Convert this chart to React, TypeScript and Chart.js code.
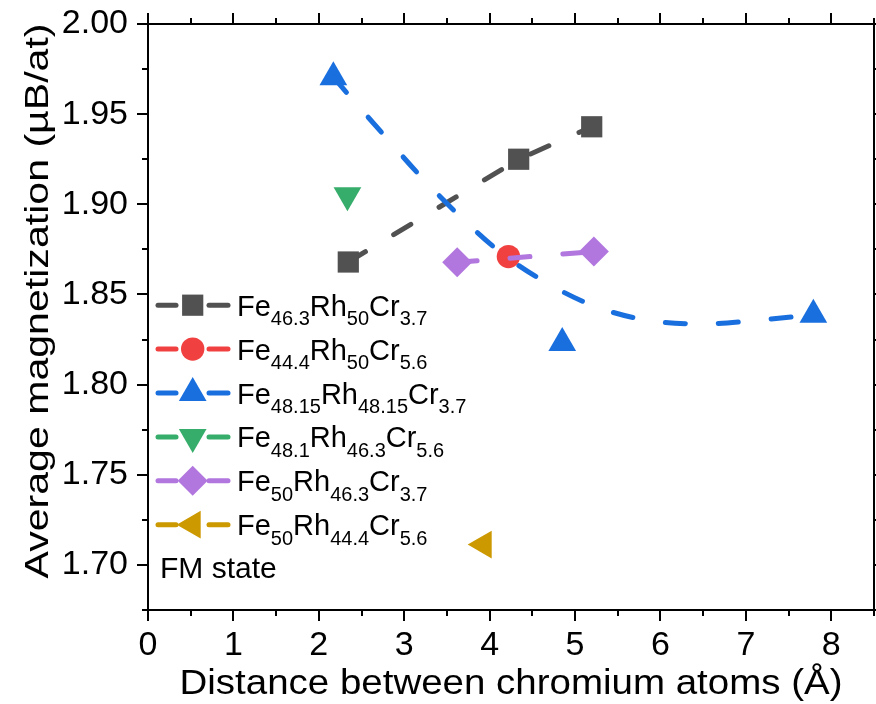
import React, { useEffect, useRef } from 'react';
import { Chart, registerables } from 'chart.js';

Chart.register(...registerables);

const FONT = '"Liberation Sans", Arial, Helvetica, sans-serif';

// Axis ranges and ticks
const xMin = 0;
const xMax = 8.5;
const yMin = 1.675;
const yMax = 2.0;
const xMajorTicks = [0, 1, 2, 3, 4, 5, 6, 7, 8];
const xMinorTicks = [0.5, 1.5, 2.5, 3.5, 4.5, 5.5, 6.5, 7.5, 8.5];
const yMajorTicks = [1.7, 1.75, 1.8, 1.85, 1.9, 1.95, 2.0];
const yMinorTicks = [1.675, 1.725, 1.775, 1.825, 1.875, 1.925, 1.975];

const xTitle = 'Distance between chromium atoms (Å)';
const yTitle = 'Average magnetization (µB/at)';
const noteText = 'FM state';

// Series labels (subscripts marked with _{ })
const seriesLabels = [
  'Fe_{46.3}Rh_{50}Cr_{3.7}',
  'Fe_{44.4}Rh_{50}Cr_{5.6}',
  'Fe_{48.15}Rh_{48.15}Cr_{3.7}',
  'Fe_{48.1}Rh_{46.3}Cr_{5.6}',
  'Fe_{50}Rh_{46.3}Cr_{3.7}',
  'Fe_{50}Rh_{44.4}Cr_{5.6}',
];
const seriesColors = ['#515151', '#F14040', '#1A6FDF', '#37AD6B', '#B177DE', '#CC9900'];

// Data values
const fe463X = [2.345, 4.34, 5.195];
const fe463Y = [1.868, 1.925, 1.943];

const fe444X = [4.22];
const fe444Y = [1.871];

const fe4815X = [2.17, 4.85, 7.79];
const fe4815Y = [1.9705, 1.8231, 1.8388];

// dashed fit curve of the Fe48.15Rh48.15Cr3.7 series
const fe4815FitX = [2.17, 2.345, 2.767, 3.185, 3.633, 4.114, 4.649, 5.234, 5.858, 6.495, 7.119, 7.79];
const fe4815FitY = [1.9705, 1.9609, 1.9381, 1.9159, 1.8943, 1.8739, 1.8569, 1.8434, 1.8356, 1.8336, 1.8356, 1.8388];

const fe481X = [2.335];
const fe481Y = [1.905];

const fe50aX = [3.62, 5.22];
const fe50aY = [1.8678, 1.8738];

const fe50bX = [3.93];
const fe50bY = [1.7113];

const toPts = (xs: number[], ys: number[]) => xs.map((x, i) => ({ x, y: ys[i] }));

type MarkerDef = { style: string; r: number; rot: number };
const markers: MarkerDef[] = [
  { style: 'rect', r: 15, rot: 0 },
  { style: 'circle', r: 11.7, rot: 0 },
  { style: 'triangle', r: 16, rot: 0 },
  { style: 'triangle', r: 16, rot: 180 },
  { style: 'rectRot', r: 15, rot: 0 },
  { style: 'triangle', r: 16, rot: -90 },
];

function drawMarker(ctx: CanvasRenderingContext2D, m: MarkerDef, x: number, y: number) {
  const r = m.r;
  ctx.beginPath();
  if (m.style === 'rect') {
    const s = Math.SQRT1_2 * r;
    ctx.rect(x - s, y - s, 2 * s, 2 * s);
  } else if (m.style === 'circle') {
    ctx.arc(x, y, r, 0, Math.PI * 2);
  } else if (m.style === 'rectRot') {
    ctx.moveTo(x - r, y);
    ctx.lineTo(x, y - r);
    ctx.lineTo(x + r, y);
    ctx.lineTo(x, y + r);
    ctx.closePath();
  } else {
    let rad = (m.rot * Math.PI) / 180;
    ctx.moveTo(x + Math.sin(rad) * r, y - Math.cos(rad) * r);
    rad += (2 * Math.PI) / 3;
    ctx.lineTo(x + Math.sin(rad) * r, y - Math.cos(rad) * r);
    rad += (2 * Math.PI) / 3;
    ctx.lineTo(x + Math.sin(rad) * r, y - Math.cos(rad) * r);
    ctx.closePath();
  }
  ctx.fill();
}

function parseLabel(s: string) {
  const parts: { t: string; sub: boolean }[] = [];
  const re = /_\{([^}]*)\}|([^_]+)/g;
  let m: RegExpExecArray | null;
  while ((m = re.exec(s))) {
    if (m[1] !== undefined) parts.push({ t: m[1], sub: true });
    else parts.push({ t: m[2], sub: false });
  }
  return parts;
}

const decorPlugin = {
  id: 'decor',
  afterDatasetsDraw(chart: any) {
    const { ctx, chartArea: a, scales } = chart;
    const xs = scales.x;
    const ys = scales.y;
    ctx.save();
    // frame
    ctx.strokeStyle = '#000';
    ctx.lineWidth = 2;
    ctx.setLineDash([]);
    ctx.strokeRect(a.left, a.top, a.right - a.left, a.bottom - a.top);
    const seg = (x1: number, y1: number, x2: number, y2: number) => {
      ctx.beginPath();
      ctx.moveTo(x1, y1);
      ctx.lineTo(x2, y2);
      ctx.stroke();
    };
    const MAJ = 11;
    const MIN = 6;
    for (const v of xMajorTicks) {
      const p = Math.round(xs.getPixelForValue(v));
      seg(p, a.bottom, p, a.bottom + MAJ);
      seg(p, a.top, p, a.top - MAJ);
    }
    for (const v of xMinorTicks) {
      const p = Math.round(xs.getPixelForValue(v));
      seg(p, a.bottom, p, a.bottom + MIN);
      seg(p, a.top, p, a.top - MIN);
    }
    for (const v of yMajorTicks) {
      const p = Math.round(ys.getPixelForValue(v));
      seg(a.left - MAJ, p, a.left, p);
      seg(a.right, p, a.right + MAJ, p);
    }
    for (const v of yMinorTicks) {
      const p = Math.round(ys.getPixelForValue(v));
      seg(a.left - MIN, p, a.left, p);
      seg(a.right, p, a.right + MIN, p);
    }

    // axis titles
    ctx.fillStyle = '#000';
    ctx.textBaseline = 'alphabetic';
    ctx.textAlign = 'center';
    ctx.font = `35px ${FONT}`;
    let w = ctx.measureText(xTitle).width;
    ctx.save();
    ctx.translate((a.left + a.right) / 2, 694);
    ctx.scale(663 / w, 1);
    ctx.fillText(xTitle, 0, 0);
    ctx.restore();

    ctx.font = `34px ${FONT}`;
    w = ctx.measureText(yTitle).width;
    ctx.save();
    ctx.translate(48, 301);
    ctx.rotate(-Math.PI / 2);
    ctx.scale(555 / w, 1);
    ctx.fillText(yTitle, 0, 0);
    ctx.restore();

    // legend
    ctx.textAlign = 'left';
    const base0 = 315.7;
    const step = 43.9;
    seriesLabels.forEach((lab, i) => {
      const bl = base0 + i * step;
      const cy = bl - 10.5;
      const col = seriesColors[i];
      ctx.strokeStyle = col;
      ctx.fillStyle = col;
      ctx.lineWidth = 5;
      ctx.lineCap = 'round';
      seg(158, cy, 176, cy);
      seg(209, cy, 228, cy);
      drawMarker(ctx, markers[i], 192.7, cy);
      ctx.fillStyle = '#000';
      let x = 237;
      for (const p of parseLabel(lab)) {
        ctx.font = p.sub ? `20px ${FONT}` : `29px ${FONT}`;
        ctx.fillText(p.t, x, p.sub ? bl + 9.3 : bl);
        x += ctx.measureText(p.t).width;
      }
    });
    ctx.font = `30px ${FONT}`;
    ctx.fillStyle = '#000';
    ctx.fillText(noteText, 160, 578.3);
    ctx.restore();
  },
};

export default function App() {
  const ref = useRef<HTMLCanvasElement>(null);
  useEffect(() => {
    if (!ref.current) return;
    const lineCommon = {
      borderWidth: 5,
      borderDash: [20, 33],
      borderCapStyle: 'round' as const,
      pointBorderWidth: 0,
      clip: false as any,
    };
    const chart = new Chart(ref.current, {
      type: 'scatter',
      data: {
        datasets: [
          {
            label: seriesLabels[0],
            data: toPts(fe463X, fe463Y),
            showLine: true,
            borderColor: seriesColors[0],
            backgroundColor: seriesColors[0],
            pointBackgroundColor: seriesColors[0],
            pointStyle: 'rect',
            pointRadius: markers[0].r,
            order: 4,
            ...lineCommon,
          },
          {
            label: seriesLabels[1],
            data: toPts(fe444X, fe444Y),
            showLine: false,
            borderColor: seriesColors[1],
            backgroundColor: seriesColors[1],
            pointBackgroundColor: seriesColors[1],
            pointStyle: 'circle',
            pointRadius: markers[1].r,
            order: 1,
            ...lineCommon,
          },
          {
            label: seriesLabels[2] + ' fit',
            data: toPts(fe4815FitX, fe4815FitY),
            showLine: true,
            borderColor: seriesColors[2],
            backgroundColor: seriesColors[2],
            pointRadius: 0,
            cubicInterpolationMode: 'monotone',
            order: 2,
            ...lineCommon,
          },
          {
            label: seriesLabels[2],
            data: toPts(fe4815X, fe4815Y),
            showLine: false,
            borderColor: seriesColors[2],
            backgroundColor: seriesColors[2],
            pointBackgroundColor: seriesColors[2],
            pointStyle: 'triangle',
            pointRadius: markers[2].r,
            order: 2,
            ...lineCommon,
          },
          {
            label: seriesLabels[3],
            data: toPts(fe481X, fe481Y),
            showLine: false,
            borderColor: seriesColors[3],
            backgroundColor: seriesColors[3],
            pointBackgroundColor: seriesColors[3],
            pointStyle: 'triangle',
            pointRotation: 180,
            pointRadius: markers[3].r,
            order: 5,
            ...lineCommon,
          },
          {
            label: seriesLabels[4],
            data: toPts(fe50aX, fe50aY),
            showLine: true,
            borderColor: seriesColors[4],
            backgroundColor: seriesColors[4],
            pointBackgroundColor: seriesColors[4],
            pointStyle: 'rectRot',
            pointRadius: markers[4].r,
            order: 0,
            ...lineCommon,
          },
          {
            label: seriesLabels[5],
            data: toPts(fe50bX, fe50bY),
            showLine: false,
            borderColor: seriesColors[5],
            backgroundColor: seriesColors[5],
            pointBackgroundColor: seriesColors[5],
            pointStyle: 'triangle',
            pointRotation: -90,
            pointRadius: markers[5].r,
            order: 6,
            ...lineCommon,
          },
        ] as any,
      },
      options: {
        responsive: false,
        maintainAspectRatio: false,
        devicePixelRatio: 1,
        animation: false,
        events: [],
        layout: { autoPadding: false, padding: { top: 24, right: 2, left: 0, bottom: 0 } },
        plugins: {
          legend: { display: false },
          tooltip: { enabled: false },
          title: { display: false },
        },
        scales: {
          x: {
            type: 'linear',
            position: 'bottom',
            min: xMin,
            max: xMax,
            grid: { display: false, drawTicks: false },
            border: { display: false },
            afterFit: (s: any) => {
              s.height = 94;
              s.paddingLeft = 0;
              s.paddingRight = 0;
              s.paddingTop = 0;
              s.paddingBottom = 0;
            },
            afterBuildTicks: (s: any) => {
              s.ticks = xMajorTicks.map((v) => ({ value: v }));
            },
            ticks: {
              autoSkip: false,
              maxRotation: 0,
              minRotation: 0,
              padding: 15,
              color: '#000',
              font: { family: FONT, size: 34 },
              callback: (v: any) => String(v),
            },
          },
          y: {
            type: 'linear',
            position: 'left',
            min: yMin,
            max: yMax,
            grid: { display: false, drawTicks: false },
            border: { display: false },
            afterFit: (s: any) => {
              s.width = 148;
              s.paddingLeft = 0;
              s.paddingRight = 0;
              s.paddingTop = 0;
              s.paddingBottom = 0;
            },
            afterBuildTicks: (s: any) => {
              s.ticks = yMajorTicks.map((v) => ({ value: v }));
            },
            ticks: {
              autoSkip: false,
              padding: 20,
              color: '#000',
              font: { family: FONT, size: 34 },
              callback: (v: any) => Number(v).toFixed(2),
            },
          },
        },
      },
      plugins: [decorPlugin],
    });
    return () => chart.destroy();
  }, []);
  return (
    <div style={{ position: 'fixed', left: 0, top: 0, width: 876, height: 704, background: '#fff' }}>
      <canvas ref={ref} width={876} height={704} style={{ display: 'block', width: 876, height: 704 }} />
    </div>
  );
}
